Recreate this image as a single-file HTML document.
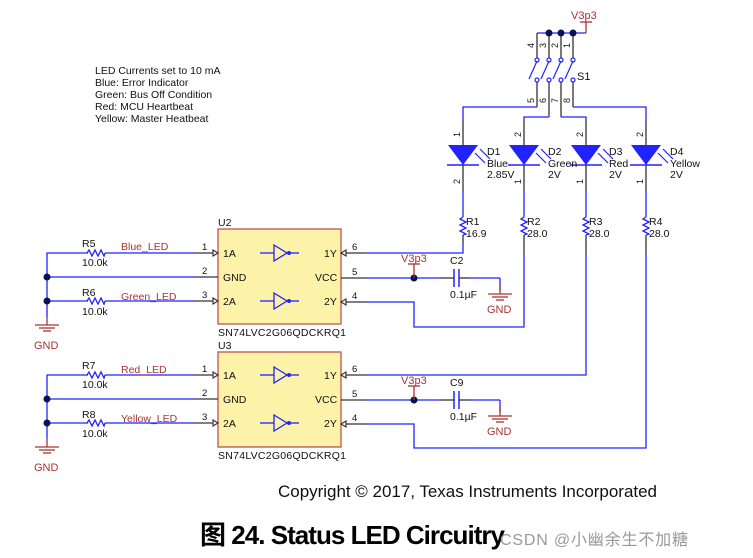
<!DOCTYPE html>
<html><head><meta charset="utf-8"><style>
html,body{margin:0;padding:0;background:#fff;width:753px;height:558px;overflow:hidden}
svg{display:block}
text{font-family:"Liberation Sans","Noto Sans CJK SC",sans-serif}
</style></head><body>
<svg width="753" height="558" viewBox="0 0 753 558" xmlns="http://www.w3.org/2000/svg">
<defs>
<g id="gnd"><line x1="0" y1="0" x2="0" y2="8" stroke="#a33" stroke-width="1.3"/><line x1="-12" y1="8" x2="12" y2="8" stroke="#a33" stroke-width="1.3"/><line x1="-8" y1="11" x2="8" y2="11" stroke="#a33" stroke-width="1.3"/><line x1="-4" y1="14" x2="4" y2="14" stroke="#a33" stroke-width="1.3"/></g>
<path id="res" d="M0,0 l2,-3 l3,6 l3,-6 l3,6 l3,-6 l3,6 l1,-3" fill="none" stroke="#22f" stroke-width="1.3"/>
<path id="vres" d="M0,0 l-3,2 l6,3 l-6,3 l6,3 l-6,3 l6,3 l-3,1" fill="none" stroke="#22f" stroke-width="1.3"/>
<g id="led"><polygon points="-15,0 15,0 0,20" fill="#22f"/><line x1="-16" y1="20" x2="16" y2="20" stroke="#22f" stroke-width="1.5"/>
<g stroke="#22f" stroke-width="1.2" fill="none"><line x1="12" y1="8" x2="22" y2="18"/><line x1="17" y1="4" x2="27" y2="14"/></g></g>
<g id="inv"><line x1="0" y1="0" x2="14" y2="0" stroke="#22f" stroke-width="1.3"/><polygon points="14,-8 14,8 27,0" fill="none" stroke="#22f" stroke-width="1.3"/><circle cx="29" cy="0" r="2" fill="#22f"/><line x1="31" y1="0" x2="39" y2="0" stroke="#22f" stroke-width="1.3"/></g>
</defs>

<!-- note text -->
<g font-size="10.5" fill="#111">
<text x="95" y="74">LED Currents set to 10 mA</text>
<text x="95" y="86">Blue: Error Indicator</text>
<text x="95" y="98">Green: Bus Off Condition</text>
<text x="95" y="110">Red: MCU Heartbeat</text>
<text x="95" y="122">Yellow: Master Heatbeat</text>
</g>

<!-- V3p3 top -->
<text x="571" y="19" font-size="11" fill="#a33">V3p3</text>
<g stroke="#a33" stroke-width="1.3"><line x1="580" y1="22" x2="592" y2="22"/><line x1="586" y1="22" x2="586" y2="33"/></g>
<g stroke="#22f" stroke-width="1.3" fill="none">
<line x1="537" y1="33" x2="586" y2="33"/>
</g>
<g stroke="#333" stroke-width="1.3" fill="none">
<line x1="537" y1="33" x2="537" y2="58"/><line x1="549" y1="33" x2="549" y2="58"/><line x1="561" y1="33" x2="561" y2="58"/><line x1="573" y1="33" x2="573" y2="58"/>
<line x1="537" y1="82" x2="537" y2="107"/><line x1="549" y1="82" x2="549" y2="117"/><line x1="561" y1="82" x2="561" y2="117"/><line x1="573" y1="82" x2="573" y2="107"/>
</g>
<g fill="#0a1050"><circle cx="549" cy="33" r="3.5"/><circle cx="561" cy="33" r="3.5"/><circle cx="573" cy="33" r="3.5"/></g>
<g stroke="#22f" stroke-width="1.2" fill="#fff">
<circle cx="537" cy="60" r="2"/><circle cx="549" cy="60" r="2"/><circle cx="561" cy="60" r="2"/><circle cx="573" cy="60" r="2"/>
<circle cx="537" cy="80" r="2"/><circle cx="549" cy="80" r="2"/><circle cx="561" cy="80" r="2"/><circle cx="573" cy="80" r="2"/>
<line x1="529" y1="79" x2="537" y2="61"/><line x1="541" y1="79" x2="549" y2="61"/><line x1="553" y1="79" x2="561" y2="61"/><line x1="565" y1="79" x2="573" y2="61"/>
</g>
<text x="577" y="80" font-size="11" fill="#111">S1</text>
<g font-size="9" fill="#111">
<text transform="translate(534,48) rotate(-90)">4</text><text transform="translate(546,48) rotate(-90)">3</text><text transform="translate(558,48) rotate(-90)">2</text><text transform="translate(570,48) rotate(-90)">1</text>
<text transform="translate(534,103) rotate(-90)">5</text><text transform="translate(546,103) rotate(-90)">6</text><text transform="translate(558,103) rotate(-90)">7</text><text transform="translate(570,103) rotate(-90)">8</text>
</g>
<g stroke="#22f" stroke-width="1.3" fill="none">
<polyline points="537,107 463,107 463,120"/>
<polyline points="549,117 524,117 524,120"/>
<polyline points="561,117 586,117 586,120"/>
<polyline points="573,107 646,107 646,120"/>
</g>
<!-- LED columns -->
<g stroke="#333" stroke-width="1.3">
<line x1="463" y1="120" x2="463" y2="145"/><line x1="524" y1="120" x2="524" y2="145"/><line x1="586" y1="120" x2="586" y2="145"/><line x1="646" y1="120" x2="646" y2="145"/>
<line x1="463" y1="165" x2="463" y2="192"/><line x1="524" y1="165" x2="524" y2="192"/><line x1="586" y1="165" x2="586" y2="192"/><line x1="646" y1="165" x2="646" y2="192"/>
</g>
<g stroke="#22f" stroke-width="1.3">
<line x1="463" y1="192" x2="463" y2="217"/><line x1="524" y1="192" x2="524" y2="217"/><line x1="586" y1="192" x2="586" y2="217"/><line x1="646" y1="192" x2="646" y2="217"/>
</g>
<use href="#led" x="463" y="145"/><use href="#led" x="524" y="145"/><use href="#led" x="586" y="145"/><use href="#led" x="646" y="145"/>
<g font-size="9" fill="#111">
<text transform="translate(460,137) rotate(-90)">1</text><text transform="translate(521,137) rotate(-90)">2</text><text transform="translate(583,137) rotate(-90)">2</text><text transform="translate(643,137) rotate(-90)">2</text>
<text transform="translate(460,184) rotate(-90)">2</text><text transform="translate(521,184) rotate(-90)">1</text><text transform="translate(583,184) rotate(-90)">1</text><text transform="translate(643,184) rotate(-90)">1</text>
</g>
<g font-size="10.5" fill="#111">
<text x="487" y="155">D1</text><text x="487" y="167">Blue</text><text x="487" y="178">2.85V</text>
<text x="548" y="155">D2</text><text x="548" y="167">Green</text><text x="548" y="178">2V</text>
<text x="609" y="155">D3</text><text x="609" y="167">Red</text><text x="609" y="178">2V</text>
<text x="670" y="155">D4</text><text x="670" y="167">Yellow</text><text x="670" y="178">2V</text>
<text x="466" y="225">R1</text><text x="466" y="237">16.9</text>
<text x="527" y="225">R2</text><text x="527" y="237">28.0</text>
<text x="589" y="225">R3</text><text x="589" y="237">28.0</text>
<text x="649" y="225">R4</text><text x="649" y="237">28.0</text>
</g>
<use href="#vres" x="463" y="217"/><use href="#vres" x="524" y="217"/><use href="#vres" x="586" y="217"/><use href="#vres" x="646" y="217"/>
<g stroke="#333" stroke-width="1.3"><line x1="463" y1="235" x2="463" y2="243"/><line x1="524" y1="235" x2="524" y2="253"/><line x1="586" y1="235" x2="586" y2="253"/><line x1="646" y1="235" x2="646" y2="253"/></g>

<!-- right-side wiring -->
<g stroke="#22f" stroke-width="1.3" fill="none">
<polyline points="365,253 463,253 463,243"/>
<line x1="365" y1="278" x2="440" y2="278"/><line x1="470" y1="278" x2="500" y2="278"/><line x1="500" y1="278" x2="500" y2="290"/>
<polyline points="365,302 414,302 414,327 524,327 524,253"/>
<polyline points="365,375 586,375 586,253"/>
<line x1="365" y1="400" x2="440" y2="400"/><line x1="470" y1="400" x2="500" y2="400"/><line x1="500" y1="400" x2="500" y2="412"/>
<polyline points="365,424 414,424 414,448 646,448 646,253"/>
</g>
<g stroke="#22f" stroke-width="1.5"><line x1="454" y1="269" x2="454" y2="287"/><line x1="459" y1="269" x2="459" y2="287"/><line x1="454" y1="391" x2="454" y2="409"/><line x1="459" y1="391" x2="459" y2="409"/></g>
<g stroke="#333" stroke-width="1.3"><line x1="440" y1="278" x2="454" y2="278"/><line x1="459" y1="278" x2="470" y2="278"/><line x1="440" y1="400" x2="454" y2="400"/><line x1="459" y1="400" x2="470" y2="400"/></g>
<g font-size="10.5" fill="#111"><text x="450" y="264">C2</text><text x="450" y="298">0.1µF</text><text x="450" y="386">C9</text><text x="450" y="420">0.1µF</text></g>
<use href="#gnd" x="500" y="286"/><use href="#gnd" x="500" y="408"/>
<text x="487" y="313" font-size="11" fill="#a33">GND</text><text x="487" y="435" font-size="11" fill="#a33">GND</text>
<g fill="#0a1050"><circle cx="414" cy="278" r="3.5"/><circle cx="414" cy="400" r="3.5"/></g>
<g stroke="#a33" stroke-width="1.3"><line x1="414" y1="264" x2="414" y2="278"/><line x1="408" y1="264" x2="420" y2="264"/><line x1="414" y1="386" x2="414" y2="400"/><line x1="408" y1="386" x2="420" y2="386"/></g>
<text x="401" y="262" font-size="11" fill="#a33">V3p3</text><text x="401" y="384" font-size="11" fill="#a33">V3p3</text>

<!-- chips -->
<g>
<rect x="218" y="229" width="123" height="95" fill="#fcf2a8" stroke="#b55" stroke-width="1.3"/>
<rect x="218" y="352" width="123" height="95" fill="#fcf2a8" stroke="#b55" stroke-width="1.3"/>
</g>
<g font-size="10.5" fill="#111">
<text x="218" y="226">U2</text><text x="218" y="349">U3</text>
<text x="218" y="336" textLength="128">SN74LVC2G06QDCKRQ1</text>
<text x="218" y="459" textLength="128">SN74LVC2G06QDCKRQ1</text>
<text x="223" y="257">1A</text><text x="223" y="281">GND</text><text x="223" y="305">2A</text>
<text x="324" y="257">1Y</text><text x="315" y="281">VCC</text><text x="324" y="305">2Y</text>
<text x="223" y="379">1A</text><text x="223" y="403">GND</text><text x="223" y="427">2A</text>
<text x="324" y="379">1Y</text><text x="315" y="403">VCC</text><text x="324" y="427">2Y</text>
</g>
<use href="#inv" x="260" y="253"/><use href="#inv" x="260" y="301"/><use href="#inv" x="260" y="375"/><use href="#inv" x="260" y="423"/>
<!-- pin stubs -->
<g stroke="#333" stroke-width="1.2" fill="#fff">
<line x1="195" y1="253" x2="213" y2="253"/><line x1="195" y1="277" x2="218" y2="277"/><line x1="195" y1="301" x2="213" y2="301"/>
<line x1="195" y1="375" x2="213" y2="375"/><line x1="195" y1="399" x2="218" y2="399"/><line x1="195" y1="423" x2="213" y2="423"/>
<line x1="346" y1="253" x2="365" y2="253"/><line x1="341" y1="278" x2="365" y2="278"/><line x1="346" y1="302" x2="365" y2="302"/>
<line x1="346" y1="375" x2="365" y2="375"/><line x1="341" y1="400" x2="365" y2="400"/><line x1="346" y1="424" x2="365" y2="424"/>
<polygon points="213,250 218,253 213,256"/><polygon points="213,298 218,301 213,304"/><polygon points="213,372 218,375 213,378"/><polygon points="213,420 218,423 213,426"/>
<polygon points="341,253 346,250 346,256"/><polygon points="341,302 346,299 346,305"/><polygon points="341,375 346,372 346,378"/><polygon points="341,424 346,421 346,427"/>
</g>
<g font-size="9.5" fill="#111">
<text x="202" y="250">1</text><text x="202" y="274">2</text><text x="202" y="298">3</text>
<text x="202" y="372">1</text><text x="202" y="396">2</text><text x="202" y="420">3</text>
<text x="352" y="250">6</text><text x="352" y="275">5</text><text x="352" y="299">4</text>
<text x="352" y="372">6</text><text x="352" y="397">5</text><text x="352" y="421">4</text>
</g>

<!-- left side -->
<g stroke="#22f" stroke-width="1.3" fill="none">
<polyline points="47,317 47,253 88,253"/><line x1="105" y1="253" x2="195" y2="253"/>
<line x1="47" y1="277" x2="195" y2="277"/>
<line x1="47" y1="301" x2="88" y2="301"/><line x1="105" y1="301" x2="195" y2="301"/>
<polyline points="47,439 47,375 88,375"/><line x1="105" y1="375" x2="195" y2="375"/>
<line x1="47" y1="399" x2="195" y2="399"/>
<line x1="47" y1="423" x2="88" y2="423"/><line x1="105" y1="423" x2="195" y2="423"/>
</g>
<use href="#res" x="87" y="253"/><use href="#res" x="87" y="301"/><use href="#res" x="87" y="375"/><use href="#res" x="87" y="423"/>
<g fill="#0a1050"><circle cx="47" cy="277" r="3.5"/><circle cx="47" cy="301" r="3.5"/><circle cx="47" cy="399" r="3.5"/><circle cx="47" cy="423" r="3.5"/></g>
<use href="#gnd" x="47" y="317"/><use href="#gnd" x="47" y="439"/>
<text x="34" y="349" font-size="11" fill="#a33">GND</text><text x="34" y="471" font-size="11" fill="#a33">GND</text>
<g font-size="10.5" fill="#111">
<text x="82" y="247">R5</text><text x="82" y="266">10.0k</text>
<text x="82" y="296">R6</text><text x="82" y="315">10.0k</text>
<text x="82" y="369">R7</text><text x="82" y="388">10.0k</text>
<text x="82" y="418">R8</text><text x="82" y="437">10.0k</text>
</g>
<g font-size="10.5" fill="#a33">
<text x="121" y="250">Blue_LED</text><text x="121" y="300">Green_LED</text><text x="121" y="373">Red_LED</text><text x="121" y="422">Yellow_LED</text>
</g>

<!-- footer -->
<text x="278" y="497" font-size="17" fill="#111" textLength="379">Copyright © 2017, Texas Instruments Incorporated</text>
<text x="200" y="544" font-size="26" font-weight="bold" fill="#000" textLength="305">图 24. Status LED Circuitry</text>
<text x="500" y="545" font-size="16" fill="#999" textLength="188">CSDN @小幽余生不加糖</text>
</svg>
</body></html>
